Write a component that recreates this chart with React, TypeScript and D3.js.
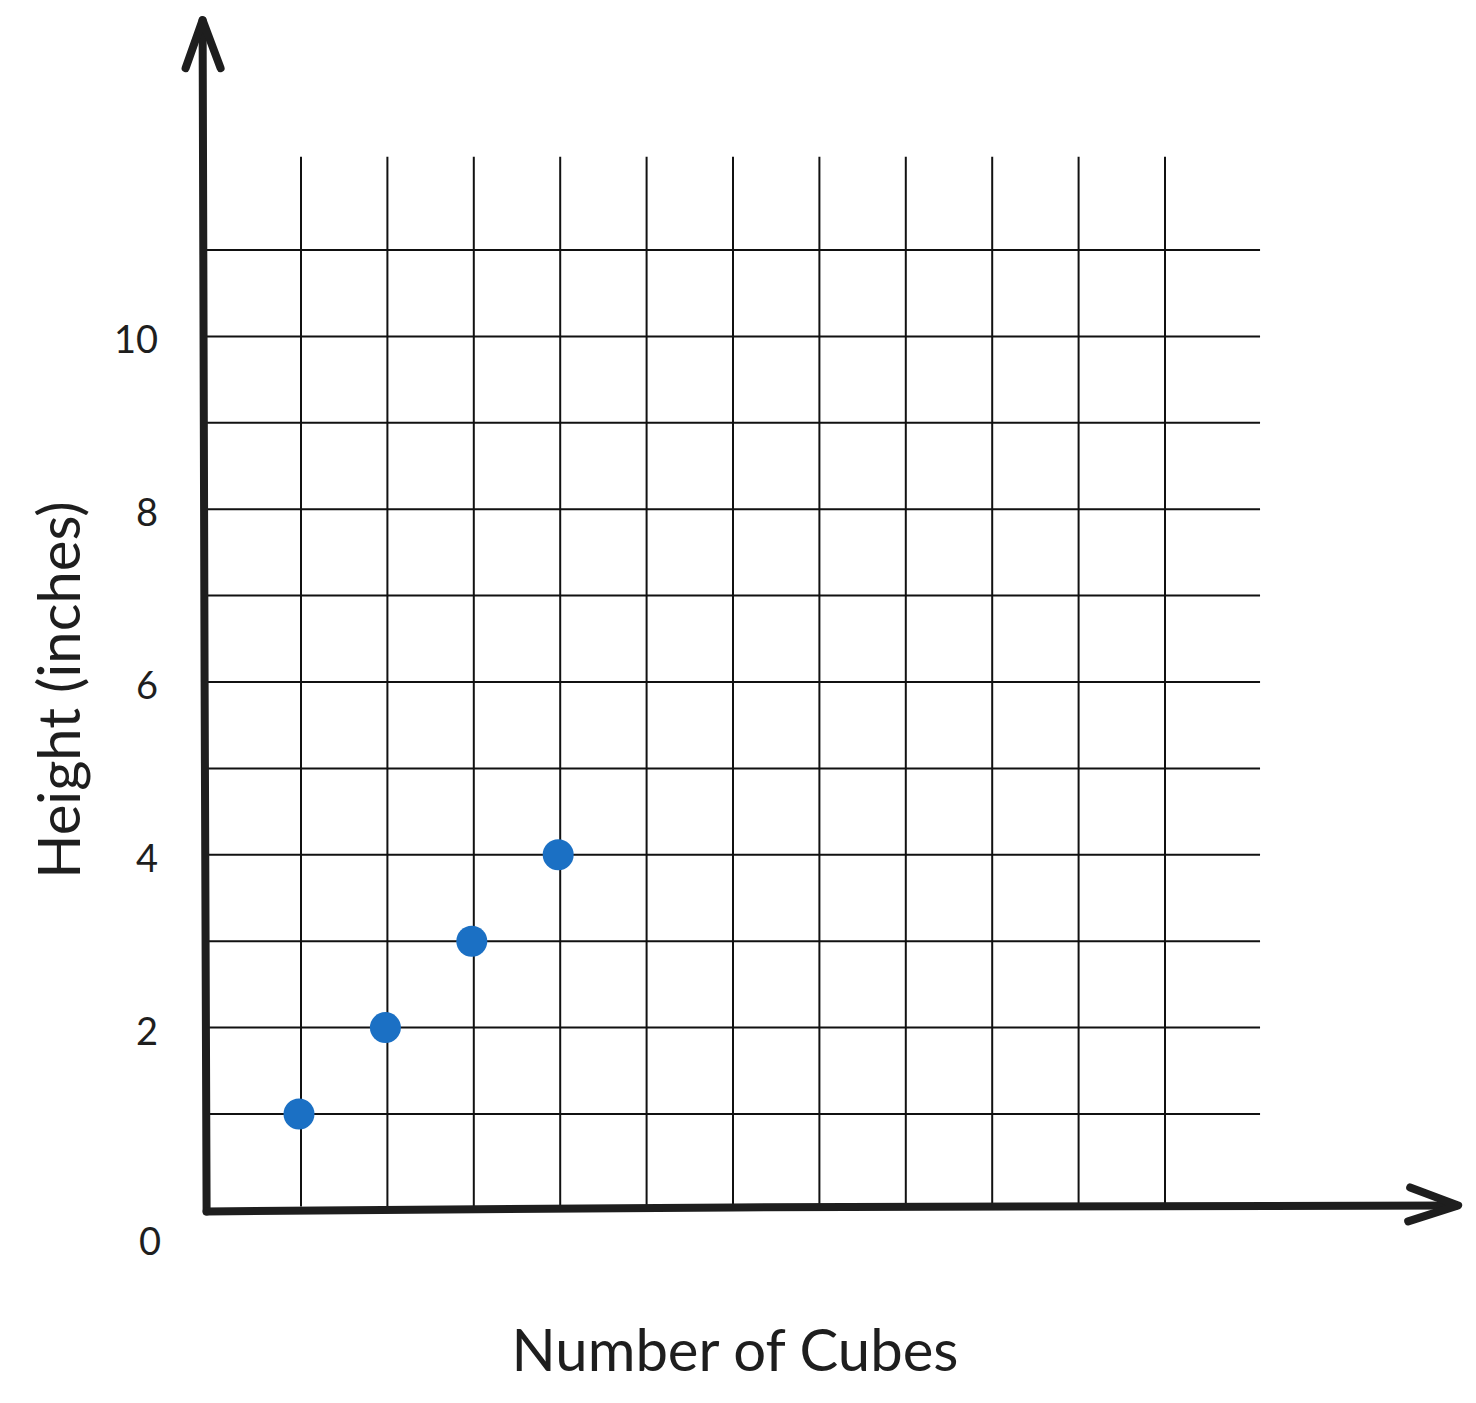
import React from "react";
import * as d3 from "d3";

const cubes = [1, 2, 3, 4];
const heights = [1, 2, 3, 4];
const gridX = [1, 2, 3, 4, 5, 6, 7, 8, 9, 10, 11];
const gridY = [1, 2, 3, 4, 5, 6, 7, 8, 9, 10, 11];
const yTickLabels = [2, 4, 6, 8, 10];
const xTitle = "Number of Cubes";
const yTitle = "Height (inches)";

const W = 1476;
const H = 1403;

export default function App() {
  const x = d3.scaleLinear().domain([0, 10]).range([214.6, 1078.6]);
  const y = d3.scaleLinear().domain([0, 10]).range([1200.4, 336.4]);
  const ink = "#1e1e1e";
  const font = "Lato, 'Noto Sans', sans-serif";

  const x0 = x(0);
  const y0 = y(0);
  const yTop = y(13.66);
  const xRight = x(14.37);
  const corner: [number, number] = [x0 - 8, y0 + 11];

  const yAxisPath = d3.line()([
    corner,
    [x0 - 10, y(6)],
    [x0 - 12, yTop],
  ]);
  const xAxisPath = d3.line()([
    corner,
    [x(6), y0 + 7],
    [xRight, y0 + 5],
  ]);
  const yArrow = d3.line()([
    [x0 - 29, yTop + 48],
    [x0 - 12, yTop],
    [x0 + 6, yTop + 48],
  ]);
  const xArrow = d3.line()([
    [xRight - 46, y0 - 13],
    [xRight + 2, y0 + 5],
    [xRight - 48, y0 + 21],
  ]);

  return (
    <svg width={W} height={H} style={{ display: "block", margin: -8 }}>
      <rect width={W} height={H} fill="#fff" />
      {gridX.map((v) => (
        <line
          key={"gx" + v}
          x1={x(v)}
          x2={x(v)}
          y1={y(12.08)}
          y2={y0 + 6}
          stroke="#111"
          strokeWidth={2}
        />
      ))}
      {gridY.map((v) => (
        <line
          key={"gy" + v}
          x1={x0 - 8}
          x2={x(12.1)}
          y1={y(v)}
          y2={y(v)}
          stroke="#111"
          strokeWidth={2}
        />
      ))}
      <path d={yAxisPath!} fill="none" stroke={ink} strokeWidth={8} strokeLinecap="round" strokeLinejoin="round" />
      <path d={xAxisPath!} fill="none" stroke={ink} strokeWidth={8} strokeLinecap="round" strokeLinejoin="round" />
      <path d={yArrow!} fill="none" stroke={ink} strokeWidth={8} strokeLinecap="round" strokeLinejoin="round" />
      <path d={xArrow!} fill="none" stroke={ink} strokeWidth={8} strokeLinecap="round" strokeLinejoin="round" />
      {cubes.map((c, i) => (
        <circle key={"p" + i} cx={x(c) - 2} cy={y(heights[i])} r={15.5} fill="#1b70c4" />
      ))}
      {yTickLabels.map((t) => (
        <text
          key={"t" + t}
          x={158}
          y={y(t) + 2}
          textAnchor="end"
          dominantBaseline="central"
          fontFamily={font}
          fontSize={38}
          fill={ink}
        >
          {t}
        </text>
      ))}
      <text x={150} y={y0 + 40} textAnchor="middle" dominantBaseline="central" fontFamily={font} fontSize={38} fill={ink}>
        0
      </text>
      <text
        x={735}
        y={1348}
        textAnchor="middle"
        dominantBaseline="central"
        fontFamily={font}
        fontSize={58}
        fill={ink}
      >
        {xTitle}
      </text>
      <text
        transform={`translate(57,690) rotate(-90)`}
        textAnchor="middle"
        dominantBaseline="central"
        fontFamily={font}
        fontSize={58}
        fill={ink}
      >
        {yTitle}
      </text>
    </svg>
  );
}
